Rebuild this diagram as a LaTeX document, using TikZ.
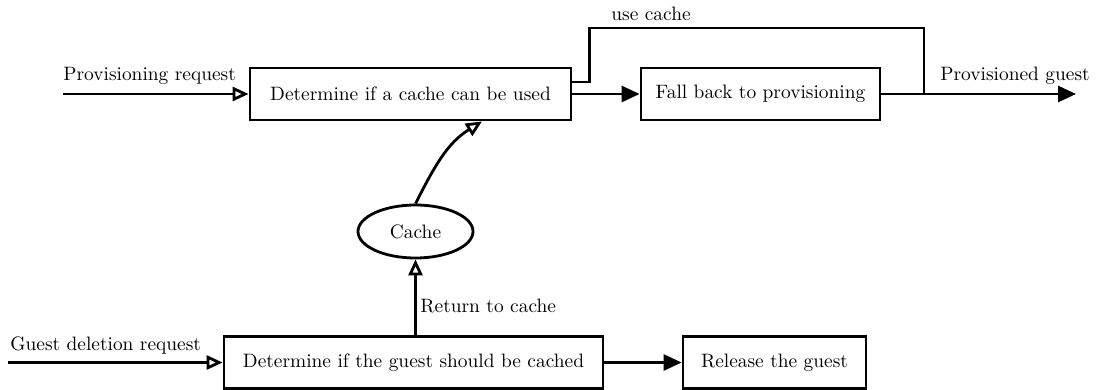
\documentclass[tikz,border=0pt]{standalone}
\usetikzlibrary{arrows.meta,shapes.geometric}
\begin{document}
\begin{tikzpicture}[x=0.5pt,y=-0.5pt,
  every node/.style={font=\fontsize{9.7}{12}\selectfont},
  box/.style={draw, line width=1.4pt, minimum height=26pt, inner sep=0pt, fill=white},
  lbl/.style={inner sep=0pt, anchor=west},
  conn/.style={line width=1.4pt},
  inarrow/.style={conn, -{Triangle[open, length=8pt, width=7pt, line width=1.4pt]}},
  outarrow/.style={conn, -{Triangle[length=9pt, width=8pt]}}]
\useasboundingbox (0,0) rectangle (1096,390);
\node[box, minimum width=160.5pt] (b1) at (410.5,94) {Determine if a cache can be used};
\node[box, minimum width=119.5pt] (b2) at (760.5,94) {Fall back to provisioning};
\node[box, minimum width=189.5pt] (b3) at (413.5,362.5) {Determine if the guest should be cached};
\node[box, minimum width=91.5pt] (b4) at (774.5,362.5) {Release the guest};
\node[draw, ellipse, line width=1.4pt, minimum width=57.5pt, minimum height=26.5pt, inner sep=0pt] (c) at (415.5,231.5) {Cache};
\coordinate (in1) at (63,94);
\coordinate (in2) at (8,362.5);
\coordinate (out) at (1076,94);
\coordinate (j) at (924,94);
\coordinate (bb) at (482,120);
\draw[inarrow] (in1) -- (b1.west);
\draw[inarrow] (in2) -- (b3.west);
\draw[outarrow] (b1.east) -- (b2.west);
\draw[outarrow] (b2.east) -- (out);
\draw[outarrow] (b3.east) -- (b4.west);
\draw[conn] ([yshift=6pt]b1.east) -- ++(8.5pt,0) |- (j |- 0,28) -- (j);
\draw[inarrow] (c.north) to[out=63,in=212] (b1.south -| bb);
\draw[inarrow] (b3.north -| c) -- (c.south);
\node[lbl] at (63,76) {Provisioning request};
\node[lbl] at (940,76) {Provisioned guest};
\node[lbl] at (10,346) {Guest deletion request};
\node[lbl] at (420,306) {Return to cache};
\node[inner sep=0pt] at (651,14) {use cache};
\end{tikzpicture}
\end{document}
